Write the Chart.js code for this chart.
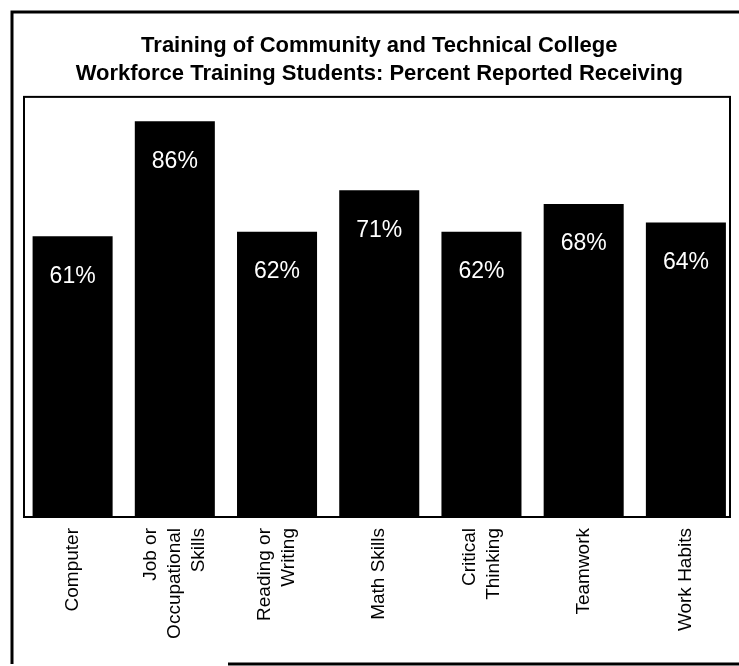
<!DOCTYPE html>
<html>
<head>
<meta charset="utf-8">
<title>Training of Community and Technical College Workforce Training Students</title>
<script src="https://cdn.jsdelivr.net/npm/chart.js@4.4.1/dist/chart.umd.min.js"></script>
<style>
  html, body { margin: 0; padding: 0; background: #fff; }
  canvas { display: block; }
</style>
</head>
<body>
<canvas id="training-chart" width="739" height="666"></canvas>
<script>
// percent of workforce training students who reported receiving each kind of training
var categories = [
  ['Computer'],
  ['Job or', 'Occupational', 'Skills'],
  ['Reading or', 'Writing'],
  ['Math Skills'],
  ['Critical', 'Thinking'],
  ['Teamwork'],
  ['Work Habits']
];
var percentReceived = [61, 86, 62, 71, 62, 68, 64];
var titleLines = [
  'Training of Community and Technical College',
  'Workforce Training Students: Percent Reported Receiving'
];

document.addEventListener('DOMContentLoaded', function() {
  Chart.defaults.font.family = "'Liberation Sans', Arial, Helvetica, sans-serif";
  Chart.defaults.color = '#000';

  // white percent text set inside the top of each bar
  var valueLabels = {
    id: 'valueLabels',
    afterDatasetsDraw: function(chart) {
      var c = chart.ctx;
      var meta = chart.getDatasetMeta(0);
      c.save();
      c.fillStyle = '#fff';
      c.font = "23px 'Liberation Sans', Arial, sans-serif";
      c.textAlign = 'center';
      c.textBaseline = 'middle';
      meta.data.forEach(function(bar, i) {
        c.fillText(percentReceived[i] + '%', bar.x, bar.y + 40);
      });
      c.restore();
    }
  };

  // upright category names under each bar, multi-line ones centred on the tick
  var categoryLabels = {
    id: 'categoryLabels',
    afterDraw: function(chart) {
      var c = chart.ctx;
      var xs = chart.scales.x;
      var lineH = 24;
      c.save();
      c.fillStyle = '#000';
      c.font = "19px 'Liberation Sans', Arial, sans-serif";
      c.textAlign = 'right';
      c.textBaseline = 'middle';
      categories.forEach(function(lines, i) {
        var px = xs.getPixelForTick(i);
        lines.forEach(function(line, j) {
          c.save();
          c.translate(px + (j - (lines.length - 1) / 2) * lineH, chart.chartArea.bottom + 11);
          c.rotate(-Math.PI / 2);
          c.fillText(line, 0, 0);
          c.restore();
        });
      });
      c.restore();
    }
  };

  // page frame plus the box round the bars
  var framePlugin = {
    id: 'frame',
    afterDraw: function(chart) {
      var c = chart.ctx, a = chart.chartArea;
      c.save();
      c.strokeStyle = '#000';
      c.lineWidth = 3;
      c.beginPath();
      c.moveTo(12, chart.height - 2);
      c.lineTo(12, 12);
      c.lineTo(chart.width, 12);
      c.moveTo(228, chart.height - 2);
      c.lineTo(chart.width, chart.height - 2);
      c.stroke();
      c.lineWidth = 2;
      c.strokeRect(a.left + 2.5, a.top, a.right - a.left - 9.5, a.bottom - a.top);
      c.restore();
    }
  };

  var ctx = document.getElementById('training-chart').getContext('2d');
  new Chart(ctx, {
    type: 'bar',
    data: {
      labels: categories,
      datasets: [{
        data: percentReceived,
        backgroundColor: '#000',
        borderWidth: 0,
        barPercentage: 0.783,
        categoryPercentage: 1
      }]
    },
    options: {
      responsive: false,
      animation: false,
      layout: {
        padding: { left: 21.5, right: 2, top: 0, bottom: 0 }
      },
      scales: {
        x: {
          grid: { display: false, drawTicks: false },
          border: { display: false },
          ticks: { display: false },
          afterFit: function(scale) {
            scale.height = 149;
          }
        },
        y: {
          display: false,
          min: 0,
          max: 91.3
        }
      },
      plugins: {
        legend: { display: false },
        tooltip: { enabled: false },
        title: {
          display: true,
          text: titleLines,
          color: '#000',
          font: { size: 22, weight: 'bold', lineHeight: 1.27 },
          padding: { top: 32, bottom: 9 }
        }
      }
    },
    plugins: [valueLabels, categoryLabels, framePlugin]
  });
});
</script>
</body>
</html>
